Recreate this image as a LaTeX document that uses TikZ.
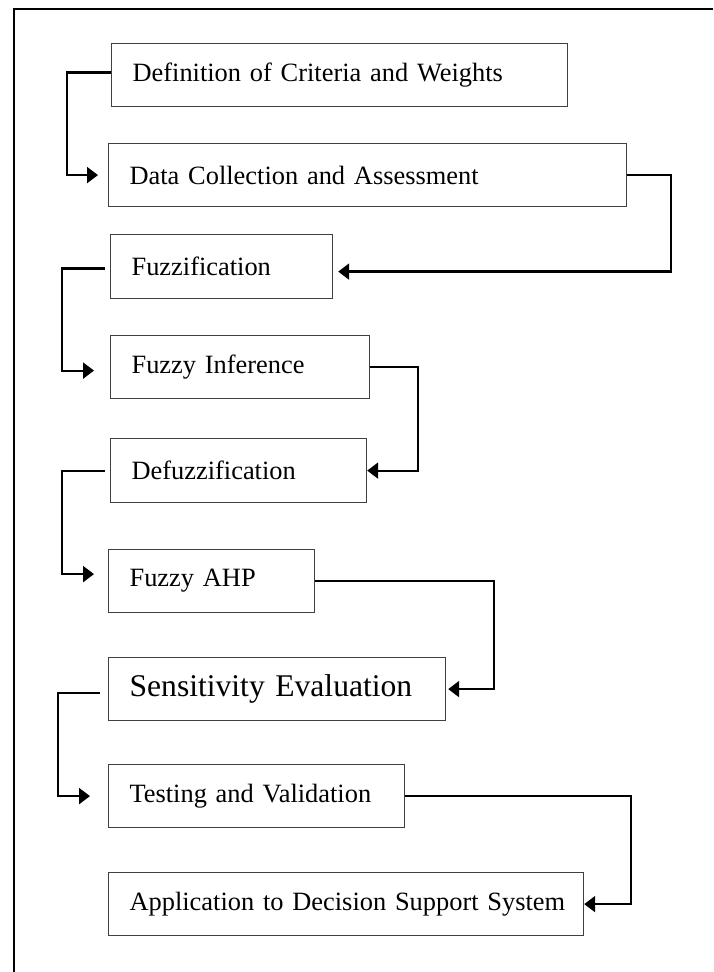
\documentclass[tikz,border=0pt]{standalone}
\usepackage{fontspec}
\setmainfont{Liberation Serif}
\usetikzlibrary{arrows.meta, positioning}

\tikzset{
  stepbox/.style={draw=black!75, line width=0.6pt, anchor=north west, inner xsep=0pt, inner ysep=0pt,
    align=left, execute at begin node={\hspace*{10.5pt}}},
  flow/.style={line width=1.1pt, -{Triangle[length=5.5pt, width=8pt]}}
}

\begin{document}
\begin{tikzpicture}[x=0.5pt, y=-0.5pt]
\useasboundingbox (0,0) rectangle (713,972);
% Outer frame (cut off at right and bottom)
\draw[line width=1.2pt] (14,972) -- (14,9) -- (713,9);

% Draw step boxes
\foreach \name/\l/\t/\r/\b/\fs/\txt in {
    def/111/43/567/106/13.2/Definition of Criteria and Weights,
    data/108/143/626/206/13.2/Data Collection and Assessment,
    fuzz/110/234/332/298/13.2/Fuzzification,
    infer/110/335/369/398/13.2/Fuzzy Inference,
    defuzz/110/438/366/502/13.2/Defuzzification,
    ahp/108/549/314/612/13.2/Fuzzy AHP,
    sens/108/657/445/720/15.8/Sensitivity Evaluation,
    test/108/764/404/827/13.2/Testing and Validation,
    app/108/872/583/935/13.2/Application to Decision Support System} {
    \pgfmathsetmacro{\boxw}{(\r-\l)*0.5}
    \pgfmathsetmacro{\boxh}{(\b-\t)*0.5}
    \node[stepbox, text width=\boxw pt, minimum height=\boxh pt,
          font=\fontsize{\fs}{18}\selectfont] (\name) at (\l,\t) {\txt};
}

% Connect steps
\draw[flow, shorten >=5pt] ([yshift=1.25pt]def.west) -- ++(-44,0) |- (data.west);
\draw[flow, shorten >=2.5pt] (data.east) -- ++(44,0) |- ([yshift=-2.5pt]fuzz.east);
\draw[flow, shorten <=2.5pt, shorten >=8pt] ([yshift=-1pt]fuzz.west) -- ++(-48,0) |- ([yshift=-1.75pt]infer.west);
\draw[flow] (infer.east) -- ++(48,0) |- (defuzz.east);
\draw[flow, shorten <=2.5pt, shorten >=7pt] (defuzz.west) -- ++(-48,0) |- ([yshift=3.5pt]ahp.west);
\draw[flow, shorten >=1pt] (ahp.east) -- ++(179,0) |- (sens.east);
\draw[flow, shorten <=4pt, shorten >=9pt] ([yshift=-1.75pt]sens.west) -- ++(-50,0) |- (test.west);
\draw[flow] (test.east) -- ++(226,0) |- (app.east);
\end{tikzpicture}
\end{document}
